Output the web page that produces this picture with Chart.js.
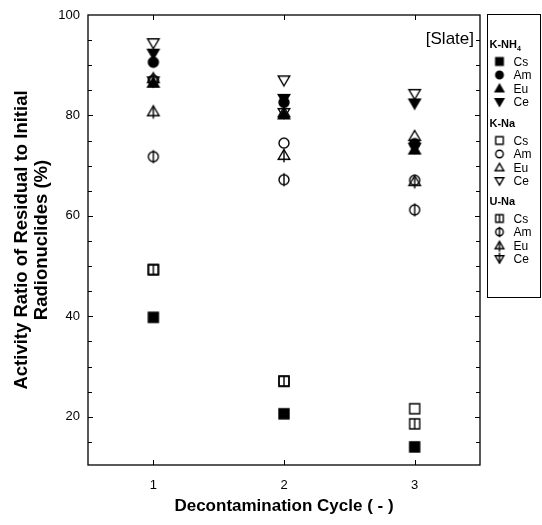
<!DOCTYPE html>
<html lang="en">
<head>
    <meta charset="UTF-8">
    <title>Activity Ratio of Residual to Initial Radionuclides</title>
    <style>
        body { margin: 0; background: #fff; }
    </style>
</head>
<body>
    <canvas id="myChart" width="542" height="525"></canvas>

    <script src="https://cdn.jsdelivr.net/npm/chart.js"></script>
    <script>
        // values
        const cycles = [1, 2, 3];
        const yTicks = [20, 40, 60, 80, 100];
        const nuclides = ['Cs', 'Am', 'Eu', 'Ce'];
        const groups = ['K-NH4', 'K-Na', 'U-Na'];

        const kNh4Cs = [39.8, 20.6, 14.0];
        const kNh4Am = [90.6, 82.6, 74.4];
        const kNh4Eu = [86.5, 80.2, 73.2];
        const kNh4Ce = [92.3, 83.3, 82.4];

        const kNaCs = [49.3, 27.1, 21.6];
        const kNaAm = [87.0, 74.5, 67.1];
        const kNaEu = [87.4, 80.6, 75.9];
        const kNaCe = [94.4, 87.0, 84.3];

        const uNaCs = [49.3, 27.1, 18.6];
        const uNaAm = [71.8, 67.2, 61.2];
        const uNaEu = [80.8, 72.1, 66.9];
        const uNaCe = [86.8, 80.5, 73.6];

        const FONT = "'Liberation Sans', Arial, sans-serif";

        // draws one marker into a small canvas, used as pointStyle
        function makeSymbol(shape, filled, bar, s) {
            const pad = 4;
            const size = Math.ceil(s + pad * 2);
            const c = document.createElement('canvas');
            c.width = size; c.height = size;
            const g = c.getContext('2d');
            const cx = size / 2, cy = size / 2, r = s / 2;
            g.lineWidth = 1.4;
            g.strokeStyle = '#000';
            g.fillStyle = '#000';
            g.beginPath();
            if (shape === 'square') {
                g.rect(cx - r, cy - r, s, s);
            } else if (shape === 'circle') {
                g.arc(cx, cy, r, 0, Math.PI * 2);
            } else if (shape === 'up') {
                g.moveTo(cx, cy - r * 1.1);
                g.lineTo(cx + r * 1.15, cy + r * 0.85);
                g.lineTo(cx - r * 1.15, cy + r * 0.85);
                g.closePath();
            } else {
                g.moveTo(cx, cy + r * 1.1);
                g.lineTo(cx + r * 1.15, cy - r * 0.85);
                g.lineTo(cx - r * 1.15, cy - r * 0.85);
                g.closePath();
            }
            if (filled) g.fill();
            g.stroke();
            if (bar) {
                g.beginPath();
                if (shape === 'square') { g.moveTo(cx, cy - r); g.lineTo(cx, cy + r); }
                else if (shape === 'circle') { g.moveTo(cx, cy - r - 1.5); g.lineTo(cx, cy + r + 1.5); }
                else if (shape === 'up') { g.moveTo(cx, cy - r * 1.1); g.lineTo(cx, cy + r * 0.85 + 3); }
                else { g.moveTo(cx, cy - r * 0.85 - 3); g.lineTo(cx, cy + r * 1.1); }
                g.stroke();
            }
            return c;
        }

        const shapes = ['square', 'circle', 'up', 'down'];
        const groupSeries = [
            [kNh4Cs, kNh4Am, kNh4Eu, kNh4Ce],
            [kNaCs, kNaAm, kNaEu, kNaCe],
            [uNaCs, uNaAm, uNaEu, uNaCe]
        ];

        const datasets = [];
        groupSeries.forEach((series, gi) => {
            series.forEach((vals, ni) => {
                const filled = gi === 0;
                const bar = gi === 2;
                datasets.push({
                    label: groups[gi] + ' ' + nuclides[ni],
                    data: cycles.map((c, i) => ({ x: c, y: vals[i] })),
                    pointStyle: makeSymbol(shapes[ni], filled, bar, 10),
                    legendSymbol: makeSymbol(shapes[ni], filled, bar, 7.5),
                    showLine: false,
                    order: 2 - gi
                });
            });
        });

        // box, inward ticks on all four sides, [Slate] and the grouped legend
        const framePlugin = {
            id: 'framePlugin',
            afterDraw(chart) {
                const { ctx, chartArea: a, scales: { x, y } } = chart;
                ctx.save();
                ctx.strokeStyle = '#000';
                ctx.lineWidth = 1.3;
                ctx.strokeRect(a.left, a.top, a.right - a.left, a.bottom - a.top);

                ctx.lineWidth = 1;
                ctx.beginPath();
                cycles.forEach(v => {
                    const px = Math.round(x.getPixelForValue(v)) + 0.5;
                    ctx.moveTo(px, a.bottom); ctx.lineTo(px, a.bottom - 5);
                    ctx.moveTo(px, a.top); ctx.lineTo(px, a.top + 5);
                });
                for (let v = Math.ceil(y.min / 5) * 5; v < y.max; v += 5) {
                    const py = Math.round(y.getPixelForValue(v)) + 0.5;
                    const len = yTicks.includes(v) ? 5 : 4;
                    ctx.moveTo(a.left, py); ctx.lineTo(a.left + len, py);
                    ctx.moveTo(a.right, py); ctx.lineTo(a.right - len, py);
                }
                ctx.stroke();

                ctx.fillStyle = '#000';
                ctx.font = '17px ' + FONT;
                ctx.textAlign = 'right';
                ctx.textBaseline = 'middle';
                ctx.fillText('[Slate]', a.right - 6, a.top + 24);

                // legend
                const lx = 487.5, ly = 14.5;
                ctx.lineWidth = 1;
                ctx.strokeRect(lx, ly, 53, 283);
                const headerY = [45, 124, 202];
                groups.forEach((grp, gi) => {
                    const hy = headerY[gi];
                    ctx.textAlign = 'left';
                    ctx.font = 'bold 11px ' + FONT;
                    if (grp === 'K-NH4') {
                        ctx.fillText('K-NH', lx + 2, hy);
                        const w = ctx.measureText('K-NH').width;
                        ctx.font = 'bold 7px ' + FONT;
                        ctx.fillText('4', lx + 2 + w, hy + 4);
                    } else {
                        ctx.fillText(grp, lx + 2, hy);
                    }
                    nuclides.forEach((nu, ni) => {
                        const ds = chart.data.datasets[gi * 4 + ni];
                        const ey = hy + 16.5 + ni * 13.5;
                        const img = ds.legendSymbol;
                        ctx.drawImage(img, lx + 12 - img.width / 2, ey - img.height / 2);
                        ctx.font = '12px ' + FONT;
                        ctx.fillText(nu, lx + 26, ey + 1);
                    });
                });
                ctx.restore();
            }
        };

        const ctx = document.getElementById('myChart').getContext('2d');
        const myChart = new Chart(ctx, {
            type: 'scatter',
            data: { datasets: datasets },
            options: {
                responsive: false,
                animation: false,
                layout: { padding: { top: 15, right: 62, left: 0, bottom: 0 } },
                plugins: {
                    legend: { display: false },
                    tooltip: { enabled: false }
                },
                scales: {
                    x: {
                        type: 'linear',
                        min: 0.5,
                        max: 3.5,
                        afterBuildTicks: s => { s.ticks = cycles.map(v => ({ value: v })); },
                        afterFit: s => { s.height = 60; },
                        grid: { display: false },
                        border: { display: false },
                        ticks: {
                            padding: 5,
                            color: '#000',
                            font: { family: FONT, size: 13 }
                        },
                        title: {
                            display: true,
                            text: 'Decontamination Cycle ( - )',
                            color: '#000',
                            font: { family: FONT, size: 17, weight: 'bold', lineHeight: 1.2 },
                            padding: { top: 0, bottom: 8 }
                        }
                    },
                    y: {
                        min: 10.4,
                        max: 100,
                        afterBuildTicks: s => { s.ticks = yTicks.map(v => ({ value: v })); },
                        afterFit: s => { s.width = 88; },
                        grid: { display: false },
                        border: { display: false },
                        ticks: {
                            padding: 0,
                            color: '#000',
                            font: { family: FONT, size: 13 }
                        },
                        title: {
                            display: true,
                            text: ['Activity Ratio of Residual to Initial', 'Radionuclides (%)'],
                            color: '#000',
                            font: { family: FONT, size: 18.5, weight: 'bold', lineHeight: 1.08 },
                            padding: { top: 12, bottom: 0 }
                        }
                    }
                }
            },
            plugins: [framePlugin]
        });
    </script>
</body>
</html>
